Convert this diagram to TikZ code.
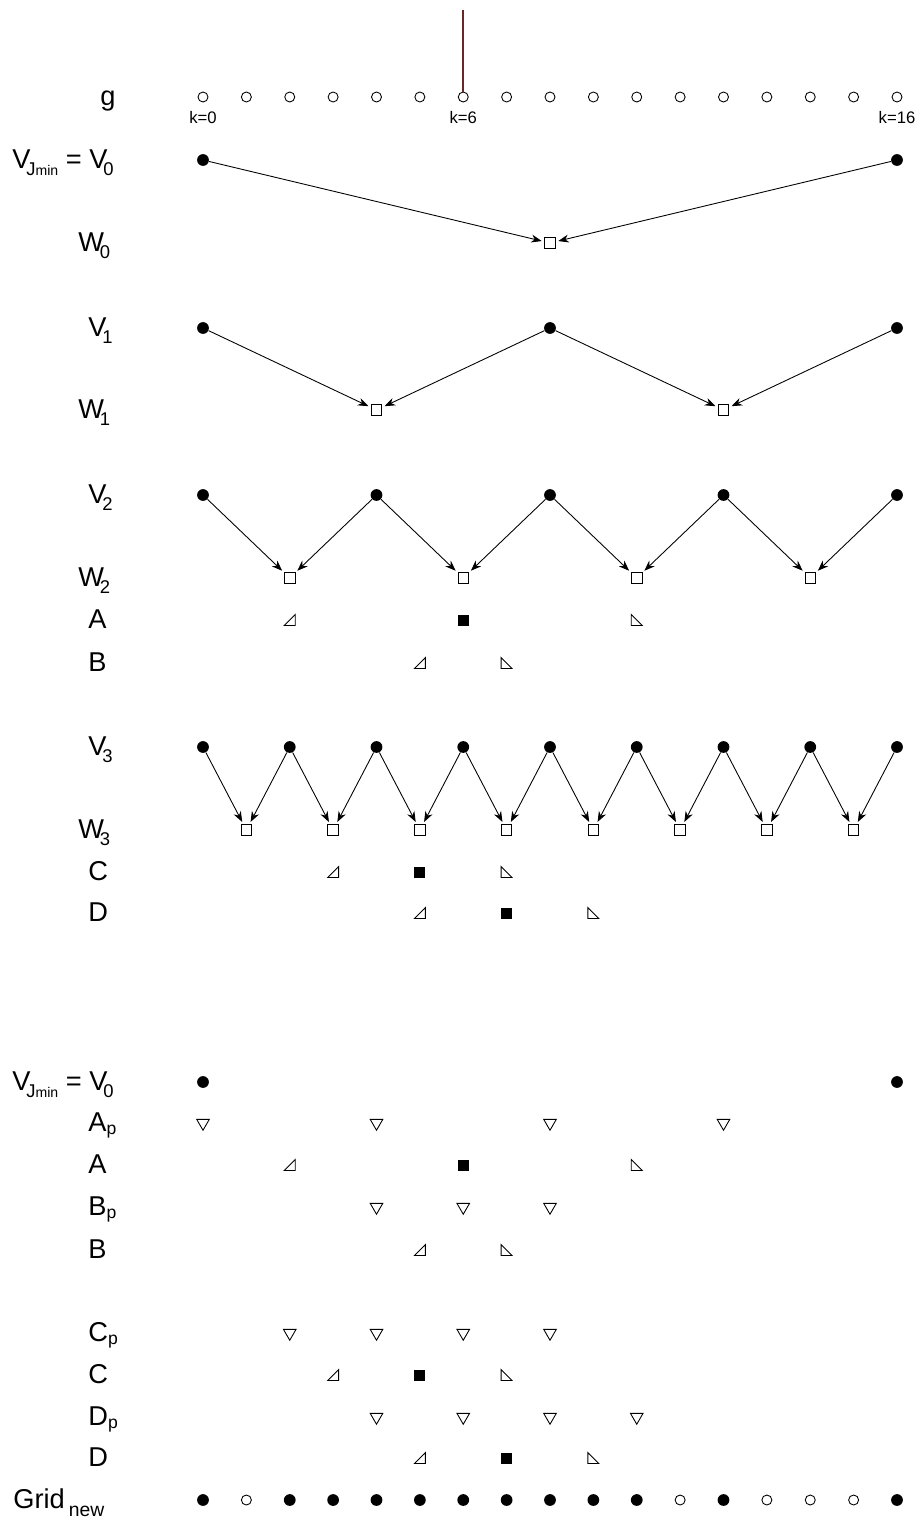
\documentclass[tikz,border=0pt]{standalone}
\usepackage{fontspec}
\setmainfont{Liberation Sans}
\usetikzlibrary{arrows.meta,positioning,shapes.geometric}
\definecolor{markbrown}{RGB}{105,40,40}
\newcommand{\lsub}[1]{\kern-0.15em\raisebox{-0.26em}{\fontsize{10.5}{11}\selectfont #1}}
\newcommand{\lsubb}[1]{{\fontsize{8}{8}\selectfont #1}}
\newcommand{\psub}{\raisebox{-0.12em}{\fontsize{10}{10}\selectfont p}}
\newcommand{\gx}[1]{203+43.375*#1}
\tikzset{
  lbl/.style={anchor=base west, inner sep=0pt, font=\fontsize{15.5}{17}\selectfont},
  klbl/.style={inner sep=0pt, font=\fontsize{9.5}{10}\selectfont},
  opn/.style={circle, draw, line width=0.5pt, inner sep=0pt, minimum size=0.2cm},
  dot/.style={circle, fill, inner sep=0pt, minimum size=0.235cm},
  sq/.style={rectangle, draw, line width=0.5pt, inner sep=0pt, minimum size=0.21cm},
  fsq/.style={rectangle, fill, inner sep=0pt, minimum size=0.22cm},
  dtri/.style={regular polygon, regular polygon sides=3, shape border rotate=180,
               draw, line width=0.5pt, inner sep=0pt, minimum size=0.29cm},
  arr/.style={-{Stealth[length=6pt,width=4.5pt]}, line width=0.5pt, shorten >=1.5pt},
  ltri/.pic={\draw[line width=0.5pt] (-5.5,5.5) -- (5.5,5.5) -- (5.5,-5.5) -- cycle;},
  rtri/.pic={\draw[line width=0.5pt] (-5.5,-5.5) -- (-5.5,5.5) -- (5.5,5.5) -- cycle;},
}
\begin{document}
\begin{tikzpicture}[x=0.02cm,y=-0.02cm]
  \useasboundingbox (0,0) rectangle (922,1522);

  % row labels
  \foreach \nm/\lx/\ly/\txt in {
      g/100/97/{g},
      v0/12/160/{V\lsub{J\lsubb{min}} = V\lsub{0}},
      w0/78/243/{W\lsub{0}},
      v1/88/328/{V\lsub{1}},
      w1/78/410/{W\lsub{1}},
      v2/88/495/{V\lsub{2}},
      w2/78/578/{W\lsub{2}},
      a/88/620/{A},
      b/88/663/{B},
      v3/88/747/{V\lsub{3}},
      w3/78/830/{W\lsub{3}},
      c/88/872/{C},
      d/88/913/{D},
      bv0/12/1082/{V\lsub{J\lsubb{min}} = V\lsub{0}},
      ap/88/1123/{A\psub},
      ba/88/1165/{A},
      bp/88/1207/{B\psub},
      bb/88/1250/{B},
      cp/88/1333/{C\psub},
      bc/88/1375/{C},
      dp/88/1417/{D\psub},
      bd/88/1458/{D},
      grid/13/1500/{Grid\kern0.15em\raisebox{-0.3em}{\fontsize{11}{11}\selectfont new}}}
    \node[lbl] (l-\nm) at (\lx,\ly+8) {\txt};

  % input samples g
  \foreach \k in {0,...,16}
    \node[opn] (g-\k) at ({\gx{\k}},97) {};
  \foreach \k in {0,6,16}
    \node[klbl, below=0.17cm of g-\k] (k-\k) {k=\k};
  \coordinate (mtop) at ({\gx{6}},10);
  \draw[markbrown, line width=1.1pt] (mtop) -- (g-6.north);

  % scaling and wavelet levels
  \foreach \lev/\d/\vy/\wy in {0/8/160/243, 1/4/328/410, 2/2/495/578, 3/1/747/830}{
    \pgfmathtruncatemacro\s{2*\d}
    \pgfmathtruncatemacro\n{8/\d}
    \foreach \k in {0,\s,...,16}
      \node[dot] (v\lev-\k) at ({\gx{\k}},\vy) {};
    \foreach \i in {1,...,\n}{
      \pgfmathtruncatemacro\k{(2*\i-1)*\d}
      \pgfmathtruncatemacro\kl{\k-\d}
      \pgfmathtruncatemacro\kr{\k+\d}
      \node[sq] (w\lev-\k) at ({\gx{\k}},\wy) {};
      \draw[arr] (v\lev-\kl) -- (w\lev-\k);
      \draw[arr] (v\lev-\kr) -- (w\lev-\k);
    }
  }

  % bottom coarse level
  \foreach \k in {0,16}
    \node[dot] (bv0-\k) at ({\gx{\k}},1082) {};

  % supports
  \foreach \r/\y/\kl/\kr in {a/620/2/10, b/663/5/7, c/872/3/7, d/913/5/9,
      ba/1165/2/10, bb/1250/5/7, bc/1375/3/7, bd/1458/5/9}{
    \pic (\r-\kl) at ({\gx{\kl}},\y) {ltri};
    \pic (\r-\kr) at ({\gx{\kr}},\y) {rtri};
  }
  \foreach \r/\y/\k in {a/620/6, c/872/5, d/913/7, ba/1165/6, bc/1375/5, bd/1458/7}
    \node[fsq] (\r-\k) at ({\gx{\k}},\y) {};
  \foreach \r/\y/\ks in {ap/1123/{0,4,8,12}, bp/1207/{4,6,8},
      cp/1333/{2,4,6,8}, dp/1417/{4,6,8,10}}
    \foreach \k in \ks
      \node[dtri] (\r-\k) at ({\gx{\k}},\y) {};

  % new grid
  \foreach \k/\st in {0/dot, 1/opn, 2/dot, 3/dot, 4/dot, 5/dot, 6/dot, 7/dot, 8/dot,
      9/dot, 10/dot, 11/opn, 12/dot, 13/opn, 14/opn, 15/opn, 16/dot}
    \node[\st] (n-\k) at ({\gx{\k}},1500) {};
\end{tikzpicture}
\end{document}
